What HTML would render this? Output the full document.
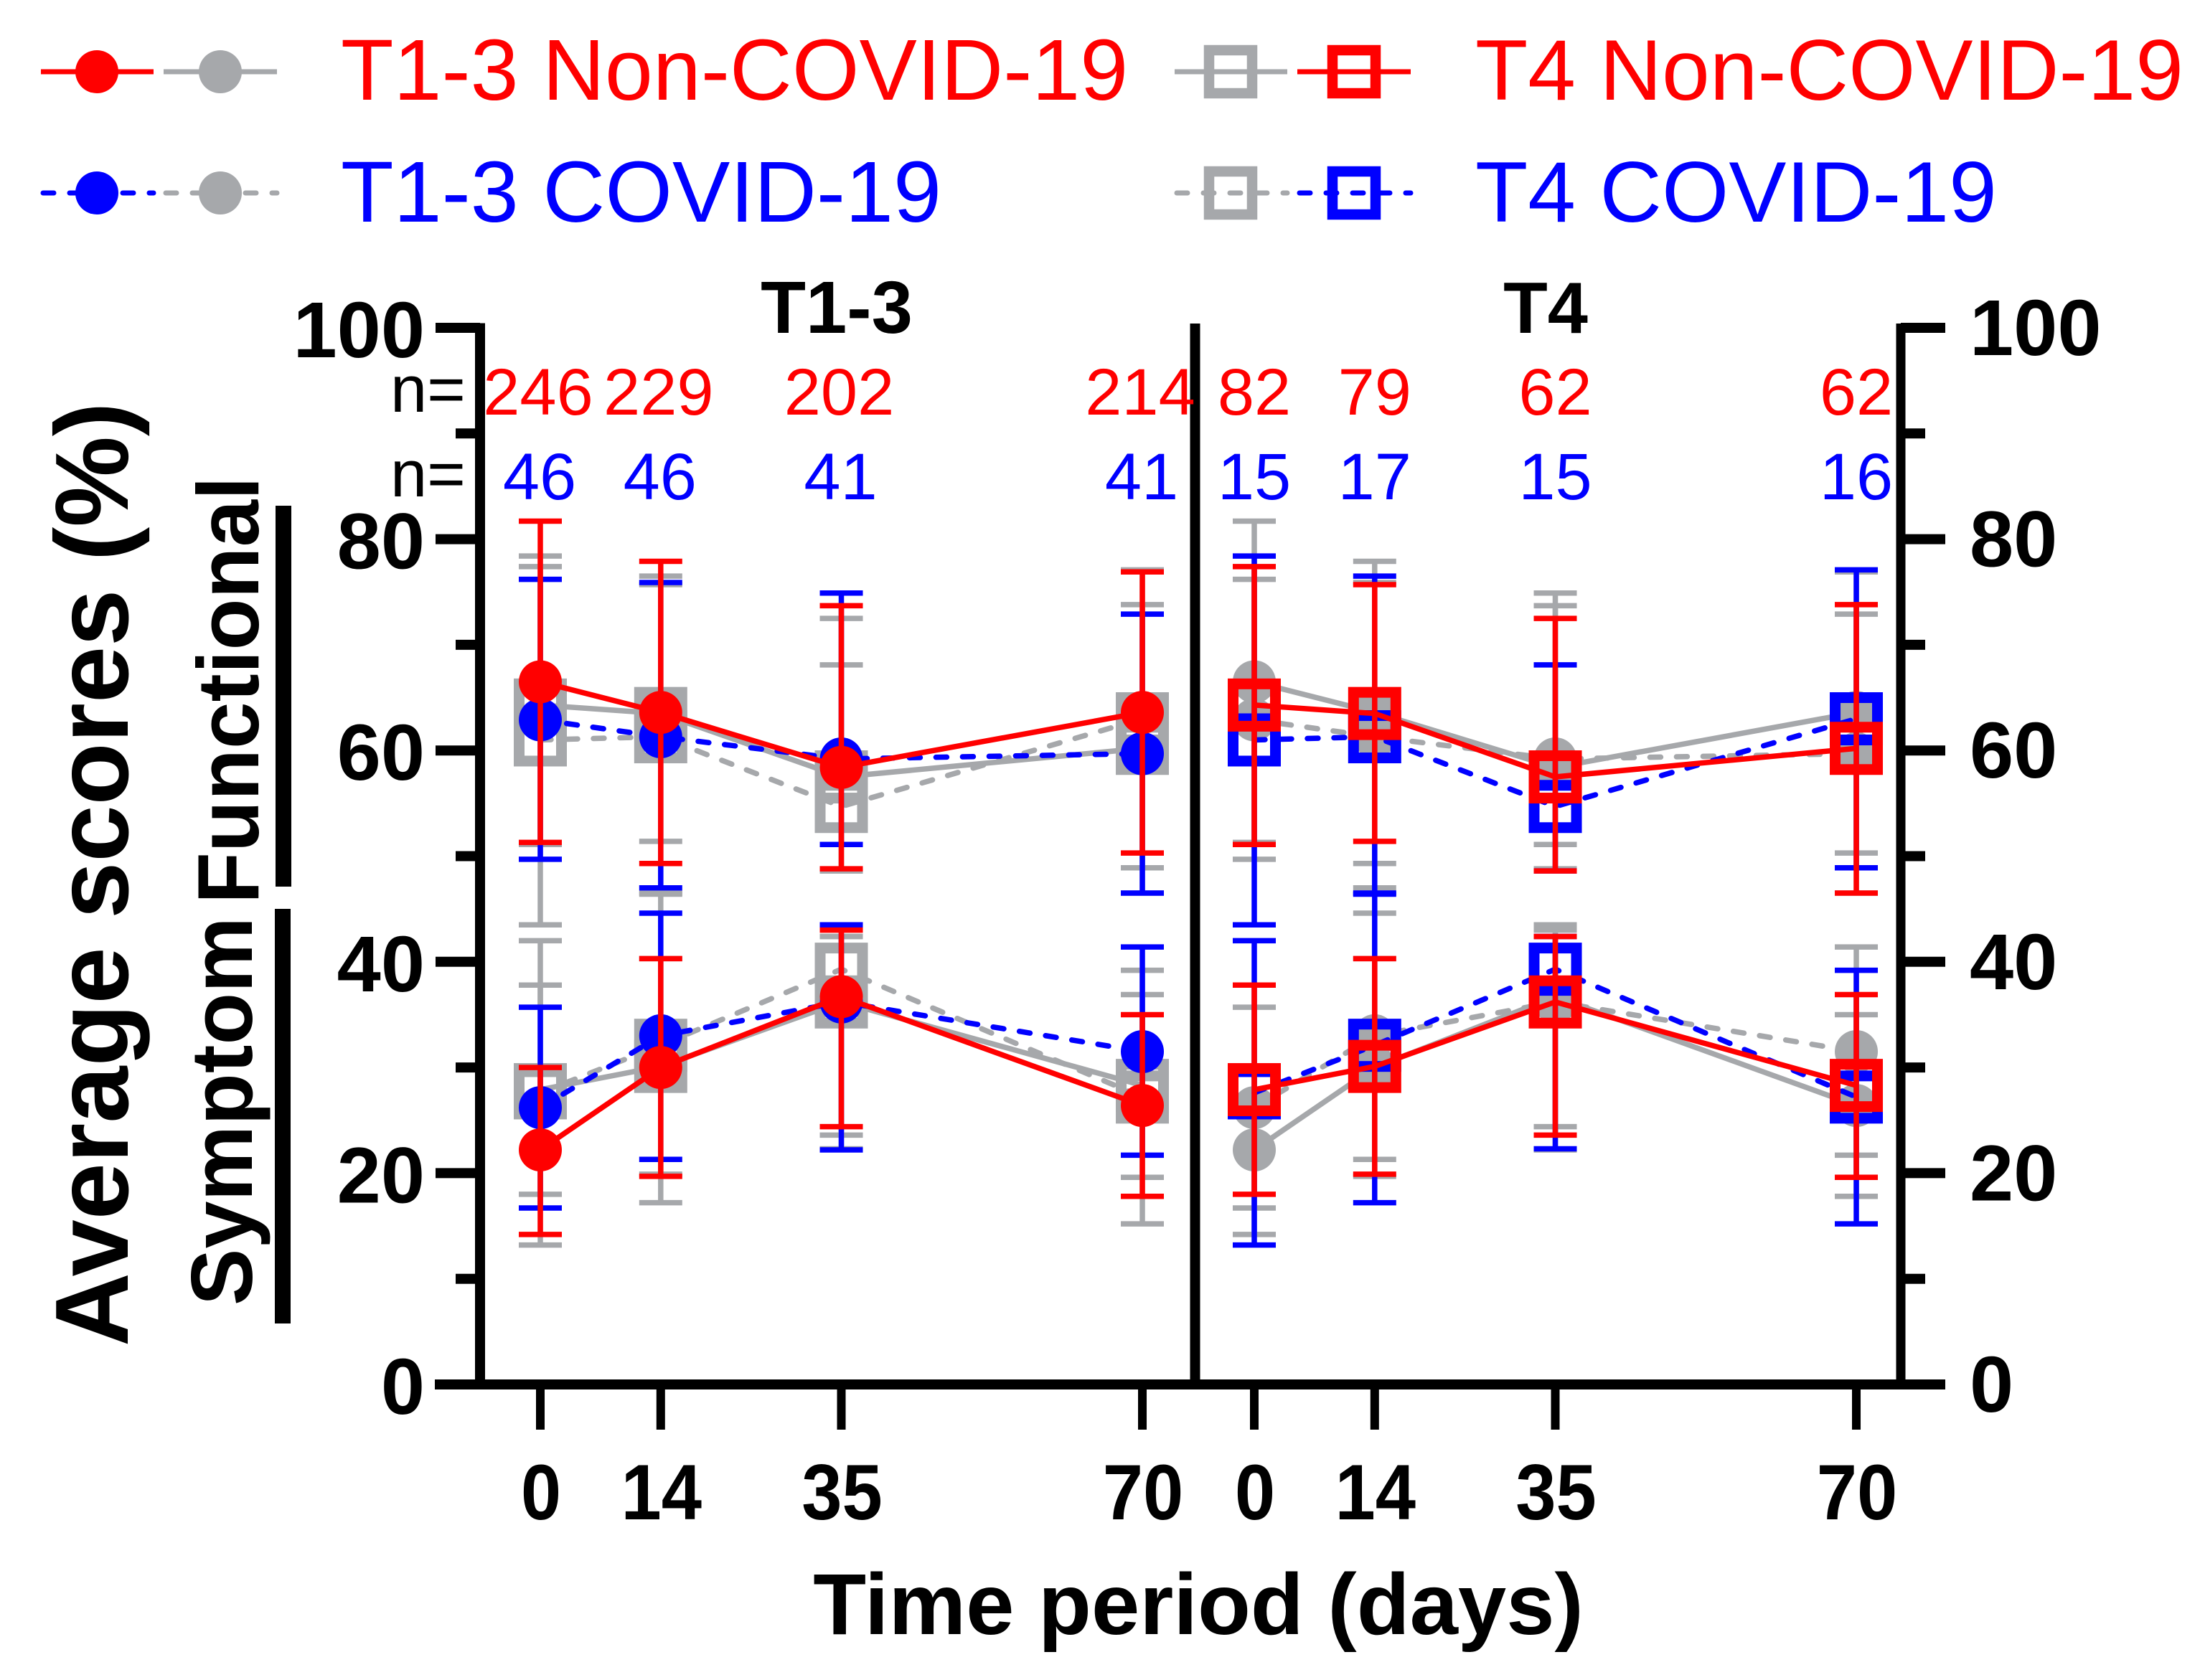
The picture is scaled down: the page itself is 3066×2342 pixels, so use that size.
<!DOCTYPE html>
<html lang="en">
<head>
<meta charset="utf-8">
<title>Average scores over time</title>
<style>
html,body{margin:0;padding:0;background:#fff;}
svg{display:block;}
text{font-family:"Liberation Sans",Arial,sans-serif;}
.b{font-weight:700;}
</style>
</head>
<body>
<svg id="chart" xmlns="http://www.w3.org/2000/svg" width="3066" height="2342" viewBox="0 0 3066 2342">
  <rect x="0" y="0" width="3066" height="2342" fill="#fff"/>
  <g id="legend">
    <g>
      <line x1="57" y1="100" x2="214" y2="100" stroke="#ff0000" stroke-width="7"/>
      <circle cx="135" cy="100" r="30" fill="#ff0000"/>
      <line x1="228" y1="100" x2="386" y2="100" stroke="#a6a8ab" stroke-width="7"/>
      <circle cx="307" cy="100" r="30" fill="#a6a8ab"/>
      <text x="475" y="139" font-size="120.4" fill="#ff0000">T1-3 Non-COVID-19</text>
    </g>
    <g>
      <line x1="60" y1="269" x2="214" y2="269" stroke="#0000ff" stroke-width="7" stroke-dasharray="15 22" stroke-linecap="round"/>
      <circle cx="135" cy="269" r="30" fill="#0000ff"/>
      <line x1="231" y1="269" x2="386" y2="269" stroke="#a6a8ab" stroke-width="7" stroke-dasharray="15 22" stroke-linecap="round"/>
      <circle cx="307" cy="269" r="30" fill="#a6a8ab"/>
      <text x="475" y="309" font-size="120.5" fill="#0000ff">T1-3 COVID-19</text>
    </g>
    <g>
      <line x1="1637" y1="100" x2="1794" y2="100" stroke="#a6a8ab" stroke-width="7"/>
      <rect x="1685" y="70" width="60" height="60" fill="none" stroke="#a6a8ab" stroke-width="14.5"/>
      <line x1="1808" y1="100" x2="1966" y2="100" stroke="#ff0000" stroke-width="7"/>
      <rect x="1857" y="70" width="60" height="60" fill="none" stroke="#ff0000" stroke-width="14.5"/>
      <text x="2056" y="139" font-size="120" fill="#ff0000">T4 Non-COVID-19</text>
    </g>
    <g>
      <line x1="1640" y1="269" x2="1794" y2="269" stroke="#a6a8ab" stroke-width="7" stroke-dasharray="15 22" stroke-linecap="round"/>
      <rect x="1685" y="239" width="60" height="60" fill="none" stroke="#a6a8ab" stroke-width="14.5"/>
      <line x1="1811" y1="269" x2="1966" y2="269" stroke="#0000ff" stroke-width="7" stroke-dasharray="15 22" stroke-linecap="round"/>
      <rect x="1857" y="239" width="60" height="60" fill="none" stroke="#0000ff" stroke-width="14.5"/>
      <text x="2056" y="309" font-size="120" fill="#0000ff">T4 COVID-19</text>
    </g>
  </g>
  <text class="b" x="1166" y="464" font-size="103" text-anchor="middle">T1-3</text>
  <text class="b" x="2154" y="464" font-size="101" text-anchor="middle">T4</text>
  <text class="b" transform="translate(178 1877) rotate(-90) scale(.982 1)" font-size="145">Average scores (%)</text>
  <text class="b" transform="translate(360 1260) rotate(-90) scale(.966 1)" font-size="122">Functional</text>
  <text class="b" transform="translate(351 1820) rotate(-90) scale(.975 1)" font-size="122">Symptom</text>
  <rect x="384" y="705" width="22" height="531"/>
  <rect x="383" y="1267" width="22" height="578"/>
  <text class="b" x="1670" y="2278" font-size="121" text-anchor="middle">Time period (days)</text>
  <text x="544" y="574" font-size="92">n=</text>
  <text x="544" y="692" font-size="92">n=</text>
  <g id="axes"></g>
  <g id="marks"></g>
</svg>
<script>
// ---------- chart data ----------
const days = [0, 14, 35, 70];
const yMajorTicks = [0, 20, 40, 60, 80, 100];
const yMinorTicks = [10, 30, 50, 70, 90];

const nNonCovidT13 = [246, 229, 202, 214];
const nCovidT13 = [46, 46, 41, 41];
const nNonCovidT4 = [82, 79, 62, 62];
const nCovidT4 = [15, 17, 15, 16];

const t13NonCovidFunctionalMean = [66.5, 63.6, 58.4, 63.6];
const t13NonCovidFunctionalUpper = [81.7, 77.9, 73.7, 76.9];
const t13NonCovidFunctionalLower = [51.3, 49.3, 48.8, 50.3];
const t13CovidFunctionalMean = [62.9, 61.3, 59.2, 59.7];
const t13CovidFunctionalUpper = [76.2, 75.9, 74.9, 72.9];
const t13CovidFunctionalLower = [49.7, 47.0, 51.1, 46.5];
const t13NonCovidSymptomMean = [22.2, 30.0, 36.7, 26.4];
const t13NonCovidSymptomUpper = [30.0, 40.3, 43.0, 35.0];
const t13NonCovidSymptomLower = [14.2, 19.7, 24.4, 17.8];
const t13CovidSymptomMean = [26.2, 33.0, 36.2, 31.5];
const t13CovidSymptomUpper = [35.7, 44.6, 43.5, 41.4];
const t13CovidSymptomLower = [16.7, 21.3, 22.2, 21.7];

const t4NonCovidFunctionalMean = [64.3, 63.5, 57.5, 60.2];
const t4NonCovidFunctionalUpper = [77.4, 75.7, 72.5, 73.8];
const t4NonCovidFunctionalLower = [51.1, 51.4, 48.6, 46.5];
const t4CovidFunctionalMean = [61.0, 61.3, 54.7, 63.0];
const t4CovidFunctionalUpper = [78.4, 76.5, 68.1, 77.1];
const t4CovidFunctionalLower = [43.5, 46.4, 48.6, 48.9];
const t4NonCovidSymptomMean = [27.9, 30.1, 36.2, 28.3];
const t4NonCovidSymptomUpper = [37.8, 40.3, 42.4, 36.9];
const t4NonCovidSymptomLower = [18.0, 19.9, 23.6, 19.6];
const t4CovidSymptomMean = [27.6, 32.1, 39.3, 27.2];
const t4CovidSymptomUpper = [42.0, 46.5, 42.4, 39.2];
const t4CovidSymptomLower = [13.2, 17.2, 22.3, 15.2];

// ---------- axis functions ----------
const NS = 'http://www.w3.org/2000/svg';
const RED = '#ff0000', BLUE = '#0000ff', GREY = '#a6a8ab';
function yScale(v) { return 1930 - v * 14.73; }
function xPanel1(d) { return 753 + d * 11.986; }
function xPanel2(d) { return 1748 + d * 11.986; }

function mk(tag, attrs, parent) {
  const el = document.createElementNS(NS, tag);
  for (const k in attrs) el.setAttribute(k, attrs[k]);
  parent.appendChild(el);
  return el;
}

const axes = document.getElementById('axes');
const marks = document.getElementById('marks');

// ---------- axes ----------
function axisLine(name, x1, y1, x2, y2, w) {
  const el = mk('line', {x1: x1, y1: y1, x2: x2, y2: y2, stroke: '#000', 'stroke-width': w}, axes);
  
  
}
axisLine('y-axis-left', 669, 450.5, 669, 1937, 14);
axisLine('panel-divider', 1665.5, 451, 1665.5, 1937, 14);
axisLine('y-axis-right', 2649, 451, 2649, 1937, 13);
axisLine('x-axis', 606, 1930, 2711, 1930, 14);

yMajorTicks.forEach(function (v) {
  const y = yScale(v);
  axisLine('y-tick-left-major', 607, y, 669, y, 14);
  axisLine('y-tick-right-major', 2649, y, 2711, y, 14);
  const l = mk('text', {x: 592, y: y + 41, 'font-size': 110, 'text-anchor': 'end', class: 'b'}, axes);
  
  
  l.textContent = String(v);
  const r = mk('text', {x: 2745, y: y + 38, 'font-size': 110, class: 'b'}, axes);
  
  
  r.textContent = String(v);
});
yMinorTicks.forEach(function (v) {
  const y = yScale(v);
  axisLine('y-tick-left-minor', 635, y, 669, y, 14);
  axisLine('y-tick-right-minor', 2649, y, 2683, y, 14);
});

[xPanel1, xPanel2].forEach(function (xf) {
  days.forEach(function (d) {
    axisLine('x-tick', xf(d), 1930, xf(d), 1993, 12);
    const t = mk('text', {transform: 'translate(' + (xf(d) + 1) + ' 2118) scale(.92 1)', 'font-size': 110, 'text-anchor': 'middle', class: 'b'}, axes);
    
    
    t.textContent = String(d);
  });
});

// ---------- sample sizes ----------
function drawCounts(values, xf, color, baseline, name, dx) {
  values.forEach(function (n, i) {
    const t = mk('text', {x: xf(days[i]) + dx, y: baseline, 'font-size': 92, 'text-anchor': 'middle', fill: color}, axes);
    
    
    t.textContent = String(n);
  });
}
drawCounts(nNonCovidT13, xPanel1, RED, 578, 'n-value-non-covid', -3);
drawCounts(nCovidT13, xPanel1, BLUE, 696, 'n-value-covid', -1);
drawCounts(nNonCovidT4, xPanel2, RED, 578, 'n-value-non-covid', 0);
drawCounts(nCovidT4, xPanel2, BLUE, 696, 'n-value-covid', 0);

// ---------- series ----------
function drawSeries(name, xf, mean, upper, lower, color, dashed, square) {
  const g = mk('g', {}, marks);
  
  
  days.forEach(function (d, i) {
    const x = xf(d);
    const stem = mk('line', {x1: x, x2: x, y1: yScale(upper[i]), y2: yScale(lower[i]), stroke: color, 'stroke-width': 7.5}, g);
    
    
    [upper[i], lower[i]].forEach(function (v) {
      const cap = mk('line', {x1: x - 30, x2: x + 30, y1: yScale(v), y2: yScale(v), stroke: color, 'stroke-width': 7.5}, g);
      
      
    });
  });
  const pts = days.map(function (d, i) { return xf(d) + ',' + yScale(mean[i]); }).join(' ');
  const lineAttrs = {points: pts, fill: 'none', stroke: color, 'stroke-width': 7.5};
  if (dashed) {
    lineAttrs['stroke-dasharray'] = '15 22';
    lineAttrs['stroke-linecap'] = 'round';
  }
  const line = mk('polyline', lineAttrs, g);
  
  
  days.forEach(function (d, i) {
    const x = xf(d), y = yScale(mean[i]);
    let m;
    if (square) {
      m = mk('rect', {x: x - 29.5, y: y - 29.5, width: 59, height: 59, fill: 'none', stroke: color, 'stroke-width': 15}, g);
    } else {
      m = mk('circle', {cx: x, cy: y, r: 30, fill: color}, g);
    }
    
    
  });
}

// T1-3 panel: T4 in grey behind, T1-3 coloured circles on top
drawSeries('t4-non-covid-functional-grey', xPanel1, t4NonCovidFunctionalMean, t4NonCovidFunctionalUpper, t4NonCovidFunctionalLower, GREY, false, true);
drawSeries('t4-non-covid-symptom-grey', xPanel1, t4NonCovidSymptomMean, t4NonCovidSymptomUpper, t4NonCovidSymptomLower, GREY, false, true);
drawSeries('t4-covid-functional-grey', xPanel1, t4CovidFunctionalMean, t4CovidFunctionalUpper, t4CovidFunctionalLower, GREY, true, true);
drawSeries('t4-covid-symptom-grey', xPanel1, t4CovidSymptomMean, t4CovidSymptomUpper, t4CovidSymptomLower, GREY, true, true);
drawSeries('t1-3-covid-functional', xPanel1, t13CovidFunctionalMean, t13CovidFunctionalUpper, t13CovidFunctionalLower, BLUE, true, false);
drawSeries('t1-3-covid-symptom', xPanel1, t13CovidSymptomMean, t13CovidSymptomUpper, t13CovidSymptomLower, BLUE, true, false);
drawSeries('t1-3-non-covid-functional', xPanel1, t13NonCovidFunctionalMean, t13NonCovidFunctionalUpper, t13NonCovidFunctionalLower, RED, false, false);
drawSeries('t1-3-non-covid-symptom', xPanel1, t13NonCovidSymptomMean, t13NonCovidSymptomUpper, t13NonCovidSymptomLower, RED, false, false);

// T4 panel: T1-3 in grey behind, T4 coloured squares on top
drawSeries('t1-3-non-covid-functional-grey', xPanel2, t13NonCovidFunctionalMean, t13NonCovidFunctionalUpper, t13NonCovidFunctionalLower, GREY, false, false);
drawSeries('t1-3-non-covid-symptom-grey', xPanel2, t13NonCovidSymptomMean, t13NonCovidSymptomUpper, t13NonCovidSymptomLower, GREY, false, false);
drawSeries('t1-3-covid-functional-grey', xPanel2, t13CovidFunctionalMean, t13CovidFunctionalUpper, t13CovidFunctionalLower, GREY, true, false);
drawSeries('t1-3-covid-symptom-grey', xPanel2, t13CovidSymptomMean, t13CovidSymptomUpper, t13CovidSymptomLower, GREY, true, false);
drawSeries('t4-covid-functional', xPanel2, t4CovidFunctionalMean, t4CovidFunctionalUpper, t4CovidFunctionalLower, BLUE, true, true);
drawSeries('t4-covid-symptom', xPanel2, t4CovidSymptomMean, t4CovidSymptomUpper, t4CovidSymptomLower, BLUE, true, true);
drawSeries('t4-non-covid-functional', xPanel2, t4NonCovidFunctionalMean, t4NonCovidFunctionalUpper, t4NonCovidFunctionalLower, RED, false, true);
drawSeries('t4-non-covid-symptom', xPanel2, t4NonCovidSymptomMean, t4NonCovidSymptomUpper, t4NonCovidSymptomLower, RED, false, true);
</script>
</body>
</html>
